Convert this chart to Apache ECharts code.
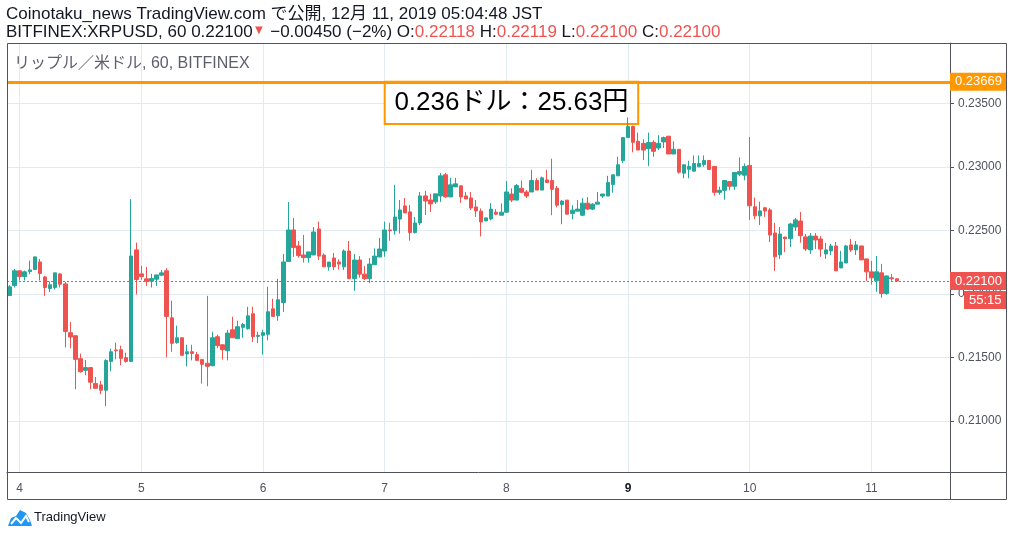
<!DOCTYPE html>
<html>
<head>
<meta charset="utf-8">
<title>XRPUSD 60</title>
<script src="https://cdn.jsdelivr.net/npm/echarts@6.0.0/dist/echarts.min.js"></script>
<style>
html, body { margin: 0; padding: 0; background: #fff; }
#main { width: 1014px; height: 537px; }
</style>
</head>
<body>
<div id="main"></div>
<script>
// 1時間足 BITFINEX:XRPUSD  [open, high, low, close]  12/3 22:00 ～ 12/11 05:00 (JST)
var bars = [
  [0.21987, 0.22068, 0.21984, 0.22055], [0.22065, 0.22196, 0.22050, 0.22181],
  [0.22181, 0.22183, 0.22105, 0.22136], [0.22136, 0.22183, 0.22105, 0.22173],
  [0.22175, 0.22262, 0.22154, 0.22188], [0.22191, 0.22291, 0.22191, 0.22291],
  [0.22251, 0.22275, 0.22105, 0.22160], [0.22133, 0.22141, 0.21984, 0.22050],
  [0.22042, 0.22097, 0.22013, 0.22071], [0.22050, 0.22165, 0.22034, 0.22165],
  [0.22157, 0.22162, 0.22050, 0.22076], [0.22078, 0.22094, 0.21578, 0.21704],
  [0.21694, 0.21777, 0.21571, 0.21660], [0.21670, 0.21670, 0.21249, 0.21484],
  [0.21489, 0.21529, 0.21379, 0.21387], [0.21398, 0.21479, 0.21359, 0.21419],
  [0.21419, 0.21419, 0.21249, 0.21304], [0.21293, 0.21345, 0.21256, 0.21256],
  [0.21283, 0.21314, 0.21209, 0.21241], [0.21241, 0.21484, 0.21115, 0.21474],
  [0.21468, 0.21568, 0.21390, 0.21544], [0.21558, 0.21615, 0.21484, 0.21552],
  [0.21560, 0.21592, 0.21437, 0.21492], [0.21497, 0.21537, 0.21458, 0.21468],
  [0.21468, 0.22746, 0.21468, 0.22298], [0.22346, 0.22403, 0.21995, 0.22113],
  [0.22157, 0.22220, 0.22110, 0.22136], [0.22118, 0.22212, 0.22063, 0.22099],
  [0.22099, 0.22157, 0.22050, 0.22120], [0.22115, 0.22149, 0.22063, 0.22149],
  [0.22147, 0.22188, 0.22139, 0.22165], [0.22181, 0.22202, 0.21500, 0.21822],
  [0.21811, 0.21945, 0.21544, 0.21610], [0.21615, 0.21749, 0.21607, 0.21654],
  [0.21654, 0.21654, 0.21516, 0.21516], [0.21526, 0.21599, 0.21429, 0.21544],
  [0.21544, 0.21599, 0.21476, 0.21531], [0.21521, 0.21542, 0.21476, 0.21476],
  [0.21482, 0.21482, 0.21293, 0.21445], [0.21453, 0.21984, 0.21272, 0.21429],
  [0.21434, 0.21701, 0.21429, 0.21654], [0.21662, 0.21678, 0.21571, 0.21592],
  [0.21599, 0.21599, 0.21482, 0.21560], [0.21552, 0.21717, 0.21476, 0.21691],
  [0.21717, 0.21819, 0.21654, 0.21654], [0.21647, 0.21788, 0.21647, 0.21741],
  [0.21736, 0.21770, 0.21654, 0.21759], [0.21725, 0.21898, 0.21717, 0.21827],
  [0.21843, 0.21898, 0.21620, 0.21662], [0.21665, 0.21701, 0.21612, 0.21673],
  [0.21673, 0.21717, 0.21521, 0.21694], [0.21681, 0.22055, 0.21633, 0.21859],
  [0.21882, 0.21961, 0.21822, 0.21822], [0.21827, 0.22118, 0.21788, 0.21953],
  [0.21932, 0.22314, 0.21859, 0.22251], [0.22254, 0.22723, 0.22254, 0.22503],
  [0.22503, 0.22597, 0.22291, 0.22364], [0.22377, 0.22416, 0.22285, 0.22301],
  [0.22306, 0.22463, 0.22246, 0.22285], [0.22285, 0.22330, 0.22246, 0.22330],
  [0.22306, 0.22526, 0.22306, 0.22487], [0.22511, 0.22568, 0.22266, 0.22297],
  [0.22305, 0.22319, 0.22213, 0.22213], [0.22213, 0.22250, 0.22182, 0.22250],
  [0.22282, 0.22321, 0.22187, 0.22213], [0.22250, 0.22271, 0.22192, 0.22234],
  [0.22213, 0.22350, 0.22187, 0.22337], [0.22337, 0.22416, 0.22119, 0.22119],
  [0.22119, 0.22313, 0.22024, 0.22266], [0.22266, 0.22297, 0.22127, 0.22155],
  [0.22155, 0.22218, 0.22108, 0.22119], [0.22119, 0.22282, 0.22084, 0.22234],
  [0.22229, 0.22358, 0.22229, 0.22297], [0.22290, 0.22440, 0.22290, 0.22353],
  [0.22337, 0.22568, 0.22292, 0.22503], [0.22503, 0.22560, 0.22418, 0.22497],
  [0.22497, 0.22858, 0.22466, 0.22605], [0.22589, 0.22739, 0.22474, 0.22660],
  [0.22692, 0.22755, 0.22637, 0.22637], [0.22645, 0.22700, 0.22418, 0.22482],
  [0.22482, 0.22605, 0.22474, 0.22558], [0.22558, 0.22802, 0.22542, 0.22771],
  [0.22771, 0.22810, 0.22621, 0.22731], [0.22739, 0.22787, 0.22645, 0.22708],
  [0.22724, 0.22787, 0.22708, 0.22787], [0.22771, 0.22952, 0.22724, 0.22929],
  [0.22937, 0.22952, 0.22755, 0.22763], [0.22763, 0.22913, 0.22763, 0.22858],
  [0.22842, 0.22913, 0.22842, 0.22866], [0.22850, 0.22850, 0.22716, 0.22763],
  [0.22771, 0.22802, 0.22747, 0.22747], [0.22755, 0.22802, 0.22660, 0.22676],
  [0.22684, 0.22739, 0.22605, 0.22653], [0.22651, 0.22672, 0.22452, 0.22566],
  [0.22574, 0.22598, 0.22574, 0.22598], [0.22590, 0.22714, 0.22579, 0.22667],
  [0.22643, 0.22667, 0.22619, 0.22627], [0.22619, 0.22712, 0.22619, 0.22643],
  [0.22643, 0.22889, 0.22637, 0.22802], [0.22786, 0.22831, 0.22722, 0.22738],
  [0.22738, 0.22865, 0.22738, 0.22852], [0.22831, 0.22892, 0.22799, 0.22799],
  [0.22802, 0.22817, 0.22754, 0.22770], [0.22802, 0.22976, 0.22802, 0.22892],
  [0.22892, 0.22910, 0.22817, 0.22817], [0.22817, 0.22923, 0.22817, 0.22913],
  [0.22897, 0.22976, 0.22876, 0.22876], [0.22892, 0.23064, 0.22619, 0.22823],
  [0.22831, 0.22849, 0.22680, 0.22698], [0.22704, 0.22738, 0.22548, 0.22730],
  [0.22738, 0.22738, 0.22627, 0.22627], [0.22632, 0.22698, 0.22587, 0.22659],
  [0.22651, 0.22738, 0.22651, 0.22667], [0.22619, 0.22754, 0.22611, 0.22714],
  [0.22714, 0.22762, 0.22659, 0.22667], [0.22667, 0.22714, 0.22659, 0.22706],
  [0.22706, 0.22802, 0.22706, 0.22722], [0.22770, 0.22786, 0.22754, 0.22786],
  [0.22770, 0.22929, 0.22770, 0.22876], [0.22860, 0.22937, 0.22796, 0.22937],
  [0.22929, 0.23079, 0.22929, 0.23016], [0.23048, 0.23230, 0.23029, 0.23230],
  [0.23230, 0.23389, 0.23230, 0.23318], [0.23318, 0.23325, 0.23114, 0.23193],
  [0.23201, 0.23270, 0.23132, 0.23132], [0.23185, 0.23217, 0.23053, 0.23132],
  [0.23143, 0.23270, 0.23005, 0.23191], [0.23193, 0.23209, 0.23079, 0.23122],
  [0.23148, 0.23249, 0.23132, 0.23185], [0.23196, 0.23238, 0.23148, 0.23230],
  [0.23241, 0.23241, 0.23101, 0.23101], [0.23101, 0.23201, 0.23101, 0.23138],
  [0.23138, 0.23138, 0.22947, 0.22958], [0.22950, 0.23016, 0.22910, 0.23016],
  [0.22981, 0.23048, 0.22910, 0.23003], [0.22966, 0.23090, 0.22966, 0.23026],
  [0.23000, 0.23090, 0.23000, 0.23026], [0.23019, 0.23090, 0.23000, 0.23050],
  [0.23050, 0.23050, 0.22979, 0.22979], [0.23003, 0.23003, 0.22772, 0.22799],
  [0.22799, 0.22844, 0.22780, 0.22815], [0.22815, 0.22892, 0.22741, 0.22892],
  [0.22884, 0.22884, 0.22815, 0.22847], [0.22847, 0.22955, 0.22820, 0.22955],
  [0.22942, 0.23074, 0.22926, 0.22963], [0.22934, 0.23026, 0.22894, 0.23003],
  [0.23011, 0.23235, 0.22582, 0.22693], [0.22685, 0.22757, 0.22587, 0.22614],
  [0.22614, 0.22725, 0.22542, 0.22653], [0.22677, 0.22685, 0.22606, 0.22653],
  [0.22661, 0.22677, 0.22407, 0.22463], [0.22479, 0.22558, 0.22180, 0.22291],
  [0.22307, 0.22526, 0.22275, 0.22471], [0.22447, 0.22447, 0.22328, 0.22434],
  [0.22434, 0.22558, 0.22368, 0.22550], [0.22526, 0.22598, 0.22495, 0.22582],
  [0.22573, 0.22644, 0.22403, 0.22458], [0.22448, 0.22471, 0.22338, 0.22353],
  [0.22346, 0.22479, 0.22314, 0.22455], [0.22455, 0.22479, 0.22353, 0.22424],
  [0.22432, 0.22455, 0.22291, 0.22353], [0.22314, 0.22401, 0.22275, 0.22346],
  [0.22338, 0.22393, 0.22306, 0.22377], [0.22377, 0.22408, 0.22181, 0.22181],
  [0.22204, 0.22338, 0.22204, 0.22251], [0.22243, 0.22385, 0.22243, 0.22377],
  [0.22385, 0.22432, 0.22330, 0.22346], [0.22346, 0.22416, 0.22306, 0.22385],
  [0.22377, 0.22377, 0.22267, 0.22267], [0.22275, 0.22275, 0.22102, 0.22173],
  [0.22173, 0.22259, 0.22073, 0.22126], [0.22102, 0.22298, 0.22016, 0.22173],
  [0.22165, 0.22236, 0.21969, 0.22003], [0.22003, 0.22141, 0.21992, 0.22141],
  [0.22126, 0.22157, 0.22102, 0.22118], [0.22118, 0.22119, 0.22100, 0.22100]
];

var priceTicks = [0.21, 0.215, 0.22, 0.225, 0.23, 0.235];
var resistance = 0.23669;       // 水平線
var noteBottom = 0.23337;       // 吹き出しの下端
var noteText = '0.236ドル：25.63円';
var lastPrice = 0.22100;
var countdown = '55:15';
var rightPadHours = 10;         // 右側の余白（空き足）

var UP = '#26a69a', DOWN = '#ef5350', ORANGE = '#ff9800';
var GRID = '#e1ecf2', AXIS = '#50535e', TEXT = '#131722';
var FONT = '"Liberation Sans", "Noto Sans CJK JP", sans-serif';

// 時間軸カテゴリ
function pad(n) { return (n < 10 ? '0' : '') + n; }
var start = Date.UTC(2019, 11, 3, 22);
var hours = [];
for (var i = 0; i < bars.length + rightPadHours; i++) {
    var d = new Date(start + i * 3600 * 1000);
    hours.push(d.getUTCFullYear() + '-' + pad(d.getUTCMonth() + 1) + '-' + pad(d.getUTCDate()) + ' ' + pad(d.getUTCHours()) + ':00');
}
function isDayStart(idx, value) { return value.slice(11) === '00:00'; }
function dayLabel(value) {
    var day = Number(value.slice(8, 10));
    var dow = new Date(Date.UTC(2019, 11, day)).getUTCDay();
    return dow === 1 ? '{b|' + day + '}' : String(day);
}

// 右端の価格ラベル
function priceTag(text, bg) {
    return {
        position: 'end', distance: 0, formatter: text,
        color: '#fff', backgroundColor: bg, fontSize: 13, lineHeight: 12, padding: [3, 5, 3, 5]
    };
}

var myChart = echarts.init(document.getElementById('main'));

myChart.setOption({
    animation: false,
    textStyle: { fontFamily: FONT },
    grid: { left: 7, right: 64, top: 43, bottom: 65 },
    xAxis: {
        type: 'category',
        data: hours,
        boundaryGap: true,
        axisLine: { lineStyle: { color: AXIS } },
        axisTick: { interval: isDayStart, alignWithLabel: true, length: 4, lineStyle: { color: AXIS } },
        axisLabel: {
            interval: isDayStart, formatter: dayLabel, color: AXIS, fontSize: 12, margin: 11,
            rich: { b: { fontWeight: 'bold', color: TEXT, fontSize: 12 } }
        },
        splitLine: { show: true, interval: isDayStart, alignWithLabel: true, lineStyle: { color: GRID } }
    },
    yAxis: {
        type: 'value',
        position: 'right',
        min: 0.20597,
        max: 0.23975,
        axisLine: { show: true, lineStyle: { color: AXIS } },
        axisTick: { show: true, customValues: priceTicks, length: 4, lineStyle: { color: AXIS } },
        axisLabel: {
            customValues: priceTicks, color: AXIS, fontSize: 12, margin: 8,
            formatter: function (v) { return v.toFixed(5); }
        },
        splitLine: { show: true, lineStyle: { color: GRID } }
    },
    series: [{
        type: 'candlestick',
        data: bars.map(function (b) { return [b[0], b[3], b[2], b[1]]; }),
        barWidth: 4,
        itemStyle: { color: UP, color0: DOWN, borderColor: UP, borderColor0: DOWN, borderWidth: 1 },
        markArea: {
            silent: true,
            itemStyle: { color: '#fff', borderColor: ORANGE, borderWidth: 2 },
            label: { show: true, position: 'inside', color: '#000', fontSize: 26, formatter: noteText },
            data: [[{ xAxis: hours[74], yAxis: resistance }, { xAxis: hours[124], yAxis: noteBottom }]]
        },
        markLine: {
            silent: true,
            symbol: 'none',
            precision: 5,
            data: [
                {
                    yAxis: resistance,
                    lineStyle: { color: ORANGE, width: 3, type: 'solid' },
                    label: priceTag(resistance.toFixed(5), ORANGE)
                },
                {
                    yAxis: lastPrice,
                    lineStyle: { color: DOWN, width: 1, type: [2, 2] },
                    label: priceTag(lastPrice.toFixed(5), DOWN)
                },
                {
                    yAxis: lastPrice,
                    lineStyle: { color: 'rgba(0,0,0,0)', width: 1 },
                    label: Object.assign(priceTag(countdown, DOWN), { offset: [14, 19] })
                }
            ]
        }
    }],
    graphic: [
        {
            type: 'text', left: 6, top: 6,
            style: { text: 'Coinotaku_news TradingView.com で公開, 12月 11, 2019 05:04:48 JST', fill: TEXT, font: '17px ' + FONT }
        },
        {
            type: 'text', left: 6, top: 24,
            style: {
                text: '{d|BITFINEX:XRPUSD, 60 0.22100}{t|▼}{d| −0.00450 (−2%) O:}{r|0.22118}{d| H:}{r|0.22119}{d| L:}{r|0.22100}{d| C:}{r|0.22100}',
                font: '17px ' + FONT,
                rich: {
                    d: { fill: TEXT, fontSize: 17, fontFamily: FONT },
                    r: { fill: DOWN, fontSize: 17, fontFamily: FONT },
                    t: { fill: DOWN, fontSize: 13, fontFamily: FONT, verticalAlign: 'top' }
                }
            }
        },
        {
            type: 'text', left: 14, top: 56,
            style: { text: 'リップル／米ドル, 60, BITFINEX', fill: '#5d606b', font: '16px ' + FONT }
        },
        {
            type: 'rect', silent: true, z: 10,
            shape: { x: 7.5, y: 43.5, width: 999, height: 456 },
            style: { fill: null, stroke: AXIS, lineWidth: 1 }
        },
        {
            type: 'line', silent: true, z: 10,
            shape: { x1: 950, y1: 472.5, x2: 1007, y2: 472.5 },
            style: { stroke: AXIS, lineWidth: 1 }
        },
        {
            type: 'line', silent: true, z: 10,
            shape: { x1: 950.5, y1: 472, x2: 950.5, y2: 500 },
            style: { stroke: AXIS, lineWidth: 1 }
        },
        {
            type: 'group', left: 8, top: 510,
            children: [
                { type: 'polygon', shape: { points: [[0, 16], [3, 8], [8, 6], [12, 0], [18, 3], [22, 10], [24, 16]] }, style: { fill: '#2196f3' } },
                { type: 'polyline', shape: { points: [[3, 14], [8, 8], [13, 13], [18, 6], [21, 12]] }, style: { stroke: '#fff', lineWidth: 2, fill: null } },
                { type: 'text', left: 26, top: 1, style: { text: 'TradingView', fill: TEXT, font: '13px ' + FONT } }
            ]
        }
    ]
});
</script>
</body>
</html>
